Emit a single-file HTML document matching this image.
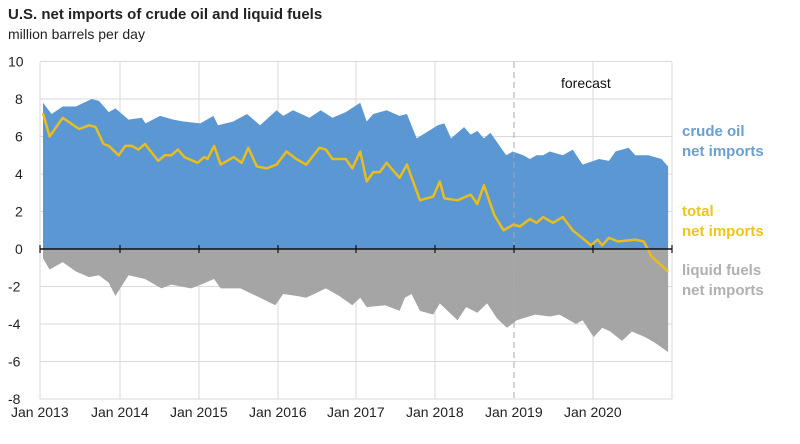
<!DOCTYPE html>
<html><head><meta charset="utf-8"><style>
body{margin:0;background:#fff;width:800px;height:439px;overflow:hidden;font-family:"Liberation Sans",sans-serif}
</style></head><body>
<svg id="s" width="800" height="439" xmlns="http://www.w3.org/2000/svg" font-family="Liberation Sans, sans-serif">
<text x="8" y="19" font-size="15" font-weight="bold" fill="#222">U.S. net imports of crude oil and liquid fuels</text>
<text x="8" y="39" font-size="14" fill="#222">million barrels per day</text>
<g id="grid" stroke="#dadada" stroke-width="1"></g>
<g id="areas"></g>
<line x1="514" y1="62" x2="514" y2="400" stroke="#aaa" stroke-dasharray="6,4"/>
<g id="axis"></g>
<text x="561" y="88" font-size="14" fill="#111">forecast</text>
<g font-size="15" font-weight="bold">
<text x="682" y="136" fill="#6a9fcf">crude oil</text>
<text x="682" y="156" fill="#6a9fcf">net imports</text>
<text x="682" y="216" fill="#f0c419">total</text>
<text x="682" y="236" fill="#f0c419">net imports</text>
<text x="682" y="275" fill="#b0b0b0">liquid fuels</text>
<text x="682" y="295" fill="#b0b0b0">net imports</text>
</g>
</svg>
<script>
var Y0=249,U=18.75,X0=43,DX=6.58;
function y(v){return Y0-v*U}
function x(m){return X0+m*DX}
var NS="http://www.w3.org/2000/svg";
function el(t,a,p){var e=document.createElementNS(NS,t);for(var k in a)e.setAttribute(k,a[k]);document.getElementById(p).appendChild(e);return e}
var crude=[[0,7.8],[1.3,7.2],[3,7.6],[5,7.6],[7.4,8.0],[8.5,7.9],[10,7.3],[11,7.5],[13,6.9],[15,7.0],[15.6,6.7],[17.8,7.1],[19.8,6.9],[21.3,6.8],[23.9,6.7],[25.9,7.1],[26.6,6.6],[28.9,6.8],[31,7.2],[33,6.6],[35.5,7.4],[36.5,7.1],[38,7.4],[40.5,7.0],[42.2,7.4],[44,7.0],[46,7.3],[48.2,7.8],[49.2,6.8],[50.2,7.2],[52.2,7.4],[54.2,7.1],[55.3,7.2],[56.8,5.9],[60,6.6],[61,6.7],[62,5.9],[64,6.5],[65,6.1],[66,6.3],[67,5.9],[68,6.2],[70.4,5.0],[71.4,5.2],[73,5.0],[74,4.8],[75,5.0],[76,5.0],[77,5.2],[79,5.0],[80.5,5.3],[82,4.5],[84.5,4.8],[86,4.7],[87,5.2],[89,5.4],[90,5.0],[92,5.0],[94,4.8],[95,4.4]];
var tot=[[0,7.25],[1,6.0],[3,7.0],[5.5,6.4],[7,6.6],[8,6.5],[9.2,5.6],[10,5.5],[11.5,5.0],[12.5,5.5],[13.5,5.5],[14.5,5.3],[15.5,5.6],[17.5,4.7],[18.5,5.0],[19.5,5.0],[20.5,5.3],[21.5,4.9],[23.5,4.6],[24.5,4.9],[25,4.8],[26,5.5],[27,4.5],[29,4.9],[30.2,4.6],[31.2,5.4],[32.5,4.4],[34,4.3],[35.5,4.5],[37,5.2],[38.5,4.8],[40,4.5],[42,5.4],[43,5.3],[44,4.8],[46,4.8],[47,4.3],[48.2,5.2],[49.2,3.6],[50.2,4.1],[51.2,4.1],[52.2,4.6],[54.2,3.8],[55.3,4.5],[57.3,2.6],[59.3,2.8],[60.3,3.6],[61,2.7],[63,2.6],[65,2.9],[66,2.4],[67,3.4],[68.6,1.8],[70,1.0],[71.5,1.3],[72.5,1.2],[74,1.6],[75,1.4],[76,1.7],[77.5,1.4],[79,1.7],[80.5,1.0],[83.3,0.2],[84.3,0.5],[85,0.2],[86,0.6],[87.4,0.4],[90,0.5],[91.3,0.4],[92.5,-0.4],[95,-1.2]];
var liq=[[0,-0.5],[1,-1.1],[3,-0.7],[5,-1.2],[7,-1.5],[8.5,-1.4],[10,-1.8],[11,-2.5],[13,-1.4],[15.5,-1.6],[18,-2.1],[19.5,-1.9],[22.5,-2.1],[24,-1.9],[26,-1.6],[27,-2.1],[30,-2.1],[33,-2.6],[35.3,-3.0],[36.5,-2.4],[38.5,-2.5],[40,-2.6],[43,-2.1],[45,-2.5],[47,-3.0],[48.2,-2.6],[49.2,-3.1],[52,-3.0],[54.2,-3.3],[55,-2.6],[56,-2.4],[57.3,-3.3],[59.3,-3.5],[60.3,-2.9],[63,-3.8],[64.3,-3.1],[66,-3.4],[67.5,-2.9],[69,-3.7],[70.5,-4.2],[72,-3.8],[74.8,-3.5],[77,-3.6],[78.5,-3.5],[81,-4.0],[82,-3.8],[83.7,-4.7],[85,-4.2],[86.2,-4.4],[88,-4.9],[89.5,-4.4],[91.5,-4.7],[93,-5.0],[95,-5.5]];
function pts(a){return a.map(function(p){return x(p[0]).toFixed(1)+","+y(p[1]).toFixed(1)}).join(" ")}
// grid
for(var v=-8;v<=10;v+=2){if(v)el("line",{x1:40,x2:672,y1:y(v),y2:y(v)},"grid");el("text",{x:v<0?8:(v>=10?8:15),y:y(v)+5,"font-size":14,fill:"#222",stroke:"none"},"grid").textContent=v}
var gx=[40,120,199,278,356,435,593,672];
gx.forEach(function(g){el("line",{x1:g,x2:g,y1:62,y2:y(-8)},"grid")});
var yrs=["Jan 2013","Jan 2014","Jan 2015","Jan 2016","Jan 2017","Jan 2018","Jan 2019","Jan 2020"];
var lx=[40,120,199,278,356,435,514,593];
yrs.forEach(function(t,i){el("text",{x:lx[i]-29,y:417,"font-size":14,fill:"#222",stroke:"none"},"grid").textContent=t});
el("polygon",{points:x(0)+","+Y0+" "+pts(crude)+" "+x(95)+","+Y0,fill:"#5b97d2"},"areas");
el("polygon",{points:x(0)+","+Y0+" "+pts(liq)+" "+x(95)+","+Y0,fill:"#a5a5a5"},"areas");
el("polyline",{points:pts(tot),fill:"none",stroke:"#e8bd1c","stroke-width":2.5,"stroke-linejoin":"round"},"areas");
el("line",{x1:40,x2:672,y1:Y0,y2:Y0,stroke:"#111","stroke-width":1.5},"axis");
lx.concat([672]).forEach(function(g){el("line",{x1:g,x2:g,y1:Y0-4,y2:Y0+4,stroke:"#111","stroke-width":1.2},"axis")});
</script>
</body></html>
